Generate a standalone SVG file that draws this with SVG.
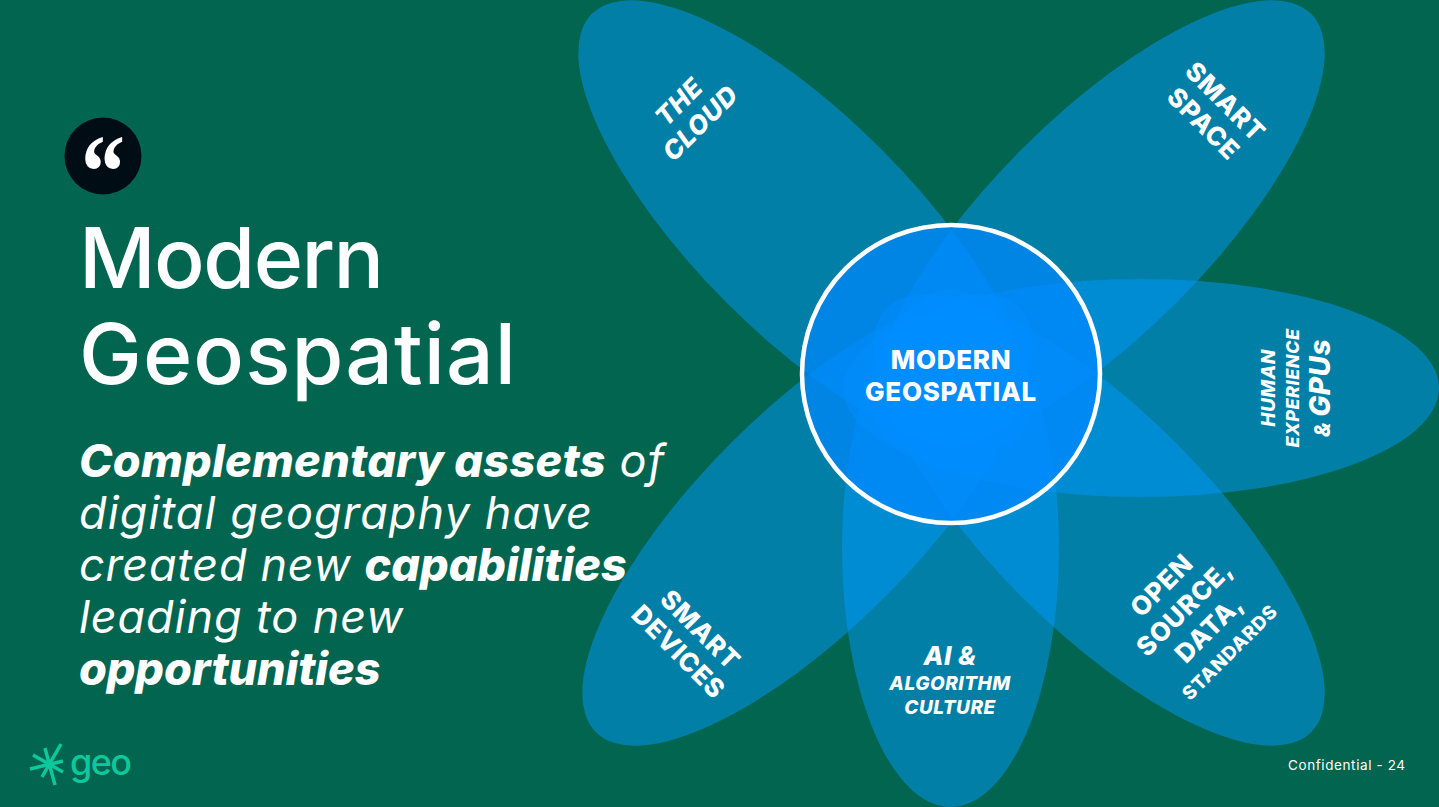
<svg xmlns="http://www.w3.org/2000/svg" width="1439" height="807" viewBox="0 0 1439 807">
<style>
text{font-family:Inter,"Noto Sans","Liberation Sans",sans-serif;fill:#fff}
.p{fill:#0099ff;fill-opacity:.5}
.t{font-size:84px;font-weight:450}
.b{font-size:45px;font-style:italic;font-weight:400;letter-spacing:1px}
.bb{font-weight:800}
.l{font-weight:800;text-anchor:middle;letter-spacing:.7px}
.li{font-weight:800;font-style:italic;text-anchor:middle;letter-spacing:.5px}
</style>
<rect width="1439" height="807" fill="#02654f"/>
<g id="petals">
<ellipse id="petal-cloud" class="p" cx="804" cy="226" rx="300" ry="109" transform="rotate(45 804 226)"/>
<ellipse id="petal-space" class="p" cx="1099" cy="226" rx="300" ry="109" transform="rotate(-45 1099 226)"/>
<ellipse id="petal-human" class="p" cx="1141" cy="388" rx="298" ry="109"/>
<ellipse id="petal-open" class="p" cx="1099" cy="520" rx="300" ry="109" transform="rotate(45 1099 520)"/>
<ellipse id="petal-ai" class="p" cx="950.500" cy="548" rx="108.500" ry="259"/>
<ellipse id="petal-devices" class="p" cx="808" cy="520" rx="300" ry="109" transform="rotate(-45 808 520)"/>
</g>
<g id="hub">
<circle cx="951" cy="374" r="149" fill="#0088ff" fill-opacity=".7" stroke="#fff" stroke-width="4.500"/>
<text class="l" x="951" y="369" font-size="26">MODERN</text>
<text class="l" x="951" y="401" font-size="26">GEOSPATIAL</text>
</g>
<g id="quote">
<circle cx="103" cy="156" r="38.500" fill="#010d14"/>
<text transform="translate(103 208) scale(1 1.2)" font-size="88" font-weight="700" text-anchor="middle" style="font-family:'Liberation Serif',serif">“</text>
</g>
<g id="title">
<text class="t" x="79" y="288" textLength="305" lengthAdjust="spacing">Modern</text>
<text class="t" x="79" y="384" textLength="437" lengthAdjust="spacing">Geospatial</text>
</g>
<g id="body">
<text class="b" x="79" y="477"><tspan class="bb" style="letter-spacing:.3px">Complementary assets</tspan> of</text>
<text class="b" x="79" y="529" style="letter-spacing:1.1px">digital geography have</text>
<text class="b" x="79" y="581" style="letter-spacing:.7px">created new <tspan class="bb" style="letter-spacing:0">capabilities</tspan></text>
<text class="b" x="79" y="633" style="letter-spacing:.9px">leading to new</text>
<text class="b" x="79" y="685"><tspan class="bb" style="letter-spacing:-.1px">opportunities</tspan></text>
</g>
<g id="label-cloud" transform="translate(689 112) rotate(-45)">
<text class="li" x="0" y="-5" font-size="26">THE</text>
<text class="li" x="0" y="25" font-size="26">CLOUD</text>
</g>
<g id="label-space" transform="translate(1216 111) rotate(45)">
<text class="l" x="0" y="-4" font-size="26">SMART</text>
<text class="l" x="0" y="27" font-size="26">SPACE</text>
</g>
<g id="label-human" transform="translate(0 388) rotate(-90)">
<text class="li" x="0" y="1275" font-size="19">HUMAN</text>
<text class="li" x="0" y="1299" font-size="18">EXPERIENCE</text>
<text class="li" x="0" y="1330" font-size="21">&amp; <tspan font-size="28">GPUs</tspan></text>
</g>
<g id="label-open" transform="translate(1168 592) rotate(-45)">
<text class="l" x="0" y="0" font-size="26">OPEN</text>
<text class="l" x="0" y="32" font-size="26">SOURCE,</text>
<text class="l" x="3" y="64" font-size="26">DATA,</text>
<text class="l" x="1" y="93" font-size="19">STANDARDS</text>
</g>
<g id="label-ai">
<text class="li" x="950" y="665" font-size="26">AI &amp;</text>
<text class="li" x="950" y="690" font-size="19">ALGORITHM</text>
<text class="li" x="950" y="714" font-size="19">CULTURE</text>
</g>
<g id="label-devices" transform="translate(691 639) rotate(45)">
<text class="l" x="0" y="-4" font-size="26">SMART</text>
<text class="l" x="0" y="27" font-size="26">DEVICES</text>
</g>
<g id="logo">
<g stroke="#0cc89c" stroke-width="3.500" stroke-linecap="butt">
<line x1="45" y1="748" x2="55" y2="785"/>
<line x1="61" y1="744" x2="42" y2="777"/>
<line x1="33" y1="755" x2="63" y2="772"/>
<line x1="30" y1="769" x2="63" y2="761"/>
</g>
<text x="70" y="775" font-size="36" font-weight="500" style="fill:#0cc89c" textLength="62" lengthAdjust="spacing">geo</text>
</g>
<text id="confidential" x="1288" y="770" font-size="13.500" style="letter-spacing:.6px">Confidential - 24</text>
</svg>
